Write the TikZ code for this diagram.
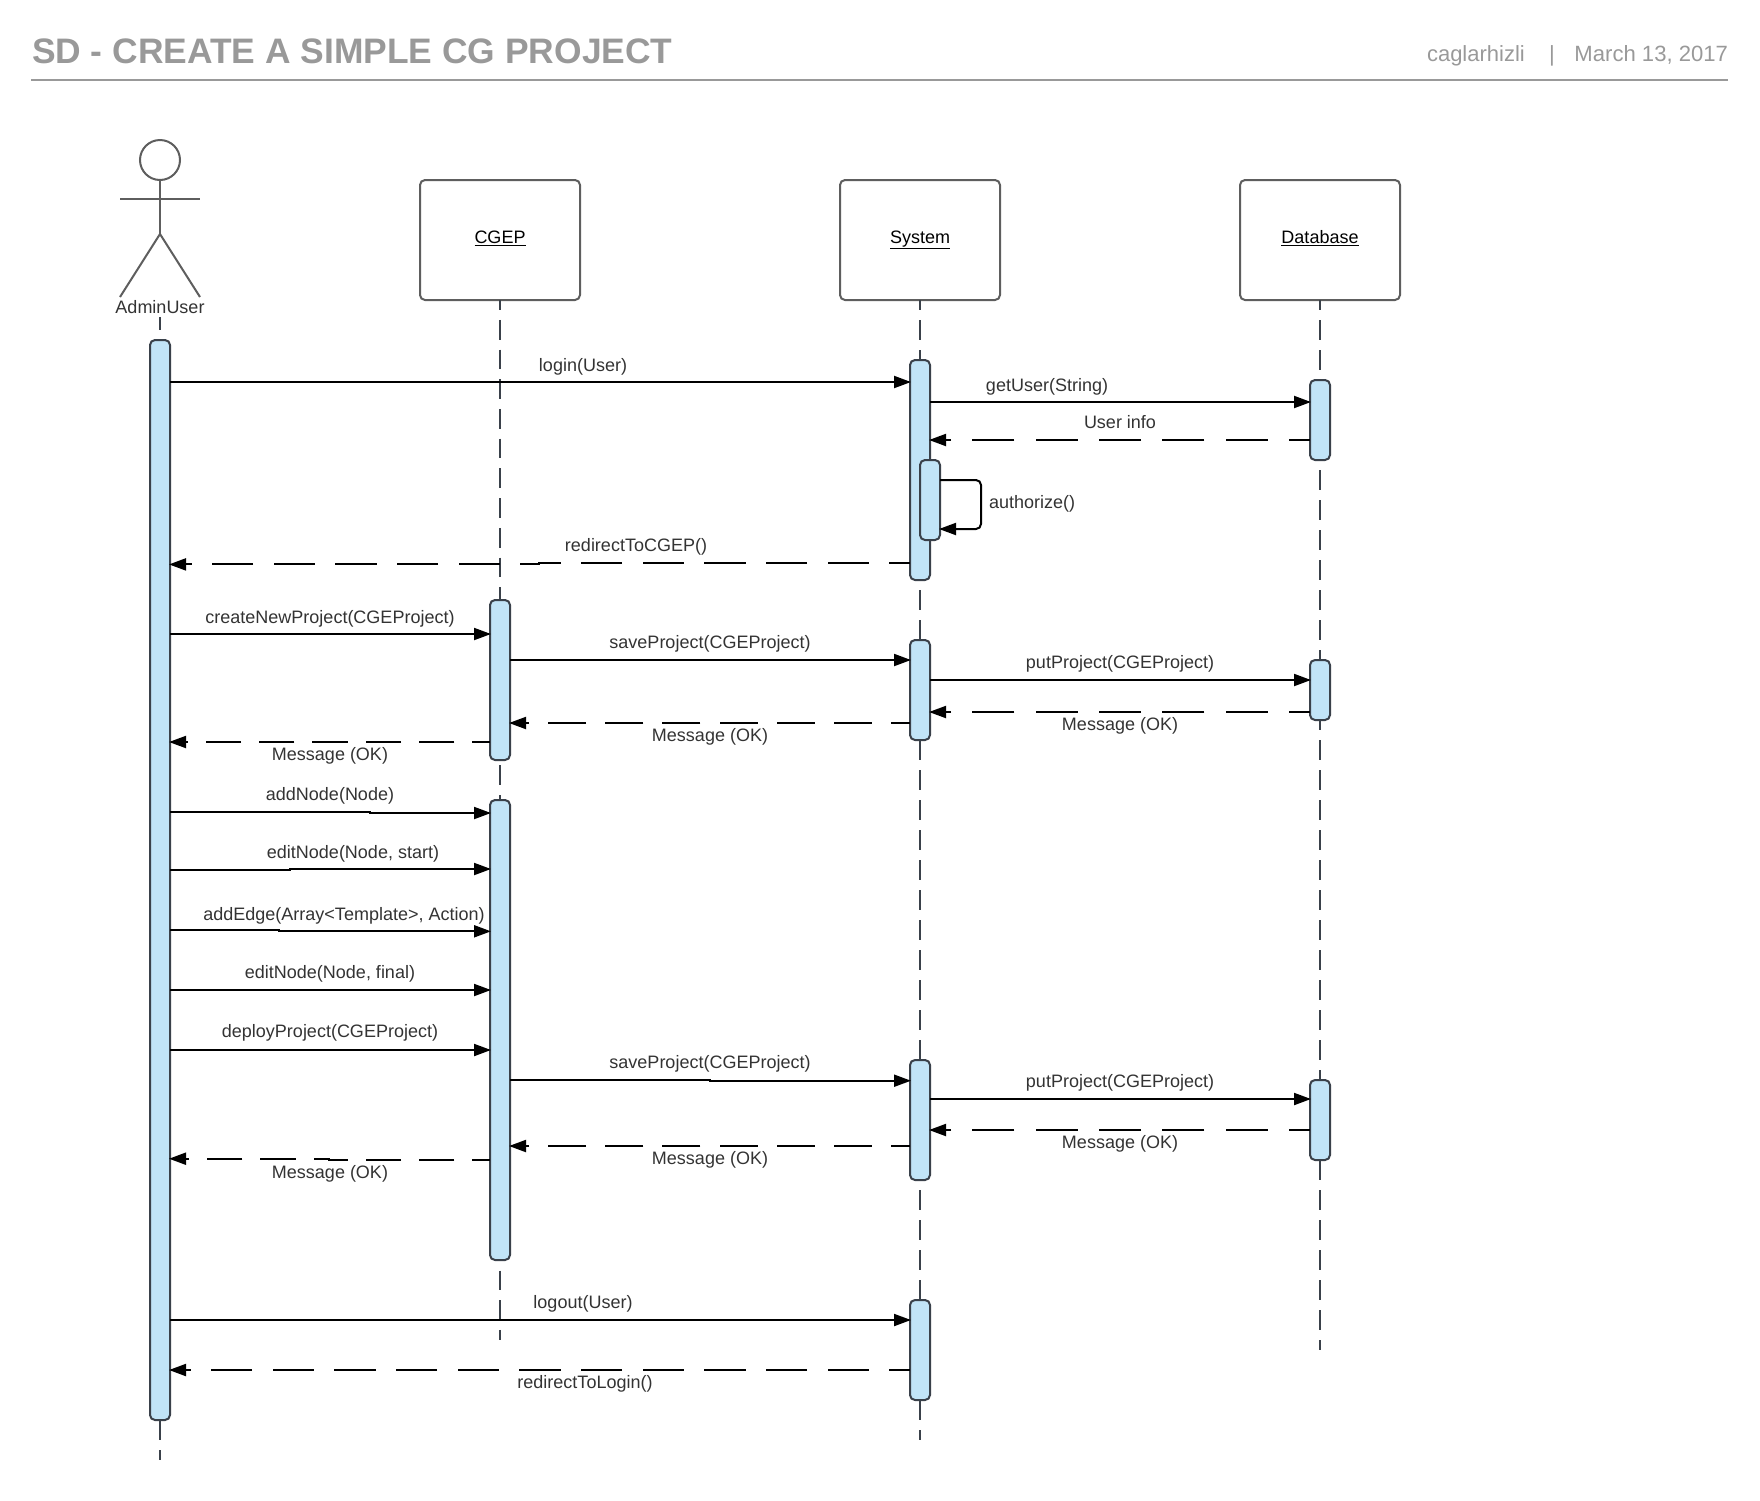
\documentclass[tikz,border=0pt]{standalone}
\usepackage{fontspec}
\setmainfont{Liberation Sans}
\usetikzlibrary{arrows.meta}
\definecolor{lifecol}{HTML}{3A414A}
\definecolor{actfill}{HTML}{C1E4F7}
\definecolor{boxcol}{HTML}{5E5E5E}
\definecolor{headcol}{HTML}{999999}
\definecolor{txtcol}{HTML}{333333}
\tikzset{
  x=1pt,y=-1pt,
  lifeline/.style={draw=lifecol,line width=1.5pt,dash pattern=on 20pt off 10pt,dash phase=10pt},
  acti/.style={draw=lifecol,line width=2pt,fill=actfill,rounded corners=5pt,minimum width=20pt,inner sep=0pt,outer sep=0pt},
  objbox/.style={draw=boxcol,line width=2pt,fill=white,rounded corners=5pt,minimum width=160pt,minimum height=120pt,inner sep=0pt,outer sep=0pt,font=\fontsize{18}{22}\selectfont,text=black,text height=11pt,text depth=4pt},
  actorline/.style={draw=boxcol,line width=2pt},
  mtip/.style={-{Triangle[length=17pt,width=12pt]},shorten >=-1pt},
  call/.style={draw=black,line width=2pt,mtip},
  reply/.style={draw=black,line width=2pt,mtip},
  % dash patterns: each line opens and closes on half a dash
  dashL/.style={dash pattern=on 41.11pt off 20.56pt,dash phase=20.56pt},   % 740 long
  dashM/.style={dash pattern=on 42.22pt off 21.11pt,dash phase=21.11pt},   % 380 long
  dashN/.style={dash pattern=on 38.10pt off 19.05pt,dash phase=19.05pt},   % 400 long
  dashO/.style={dash pattern=on 35.56pt off 17.78pt,dash phase=17.78pt},   % 320 long
  lab/.style={font=\fontsize{18}{22}\selectfont,text=txtcol,inner sep=0pt,outer sep=0pt,text height=17.4pt,text depth=4pt,anchor=center},
  headtxt/.style={text=headcol,inner sep=0pt,outer sep=0pt},
}
\begin{document}
\begin{tikzpicture}
\useasboundingbox (0,0) rectangle (1760,1500);
% header
\node[headtxt,anchor=base west,font=\fontsize{35.4}{40}\selectfont\bfseries] (title) at (32,63) {SD - CREATE A SIMPLE CG PROJECT};
\node[headtxt,anchor=base west,font=\fontsize{22}{26}\selectfont] (author) at (1427,61) {caglarhizli};
\node[headtxt,anchor=base,font=\fontsize{22}{26}\selectfont] (sep) at (1552,61) {|};
\node[headtxt,anchor=base east,font=\fontsize{22.1}{26}\selectfont] (date) at (1728,61) {March 13, 2017};
\draw[headcol,line width=2pt] (31,80) -- (1728,80);
% actor
\node[draw=boxcol,line width=2pt,circle,minimum size=40pt,inner sep=0pt,outer sep=0pt] (head) at (160,160) {};
\coordinate (crotch) at (160,234);
\draw[actorline] (head.south) -- (crotch);
\draw[actorline] (120,199) -- (200,199);
\draw[actorline] (120,297) -- (crotch) -- (200,297);
\node[lab] (admin) at (160,307) {AdminUser};
% objects
\node[objbox] (cgep) at (500,240) {\underline{CGEP}};
\node[objbox] (system) at (920,240) {\underline{System}};
\node[objbox] (database) at (1320,240) {\underline{Database}};
% lifeline ends
\coordinate (adminEnd) at (160,1460);
\coordinate (cgepEnd) at (500,1340);
\coordinate (systemEnd) at (920,1440);
\coordinate (databaseEnd) at (1320,1350);
\draw[lifeline,dash phase=7pt] (admin.south |- 0,317) -- (adminEnd);
\draw[lifeline,dash pattern=on 19.81pt off 9.9pt,dash phase=9.9pt] (cgep.south) -- (cgepEnd);
\draw[lifeline] (system.south) -- (systemEnd);
\draw[lifeline] (database.south) -- (databaseEnd);
% activations
\node[acti,minimum height=1080pt] (aA) at (160,880) {};
\node[acti,minimum height=160pt] (aC1) at (500,680) {};
\node[acti,minimum height=460pt] (aC2) at (500,1030) {};
\node[acti,minimum height=220pt] (aS1) at (920,470) {};
\node[acti,minimum height=80pt] (aS1b) at (930,500) {};
\node[acti,minimum height=100pt] (aS2) at (920,690) {};
\node[acti,minimum height=120pt] (aS3) at (920,1120) {};
\node[acti,minimum height=100pt] (aS4) at (920,1350) {};
\node[acti,minimum height=80pt] (aD1) at (1320,420) {};
\node[acti,minimum height=60pt] (aD2) at (1320,690) {};
\node[acti,minimum height=80pt] (aD3) at (1320,1120) {};
% messages
\draw[call] (aA.east |- 0,382) -- (aS1.west |- 0,382);
\node[lab] (l1) at (583,365) {login(User)};
\draw[call] (aS1.east |- 0,402) -- (aD1.west |- 0,402);
\node[lab] (l2) at (1047,385) {getUser(String)};
\draw[reply,dashM] (aD1.west |- 0,440) -- (aS1.east |- 0,440);
\node[lab] (l3) at (1120,422) {User info};
\draw[line width=2pt,rounded corners=5pt,mtip] (aS1b.east |- 0,480) -- (981,480) -- (981,529) -- (aS1b.east |- 0,529);
\node[lab,anchor=west] (l4) at (989,502) {authorize()};
\draw[reply,dashL] (aS1.west |- 0,563.4) -- (539,563.4) -- (539,564.4) -- (aA.east |- 0,564.4);
\node[lab] (l5) at (636,545) {redirectToCGEP()};
\draw[call] (aA.east |- 0,634) -- (aC1.west |- 0,634);
\node[lab] (l6) at (330,617) {createNewProject(CGEProject)};
\draw[call] (aC1.east |- 0,660) -- (aS2.west |- 0,660);
\node[lab] (l7) at (710,642) {saveProject(CGEProject)};
\draw[call] (aS2.east |- 0,680) -- (aD2.west |- 0,680);
\node[lab] (l8) at (1120,662) {putProject(CGEProject)};
\draw[reply,dashM] (aD2.west |- 0,712) -- (aS2.east |- 0,712);
\node[lab] (l9) at (1120,724) {Message (OK)};
\draw[reply,dashN] (aS2.west |- 0,723) -- (aC1.east |- 0,723);
\node[lab] (l10) at (710,735) {Message (OK)};
\draw[reply,dashO] (aC1.west |- 0,742) -- (aA.east |- 0,742);
\node[lab] (l11) at (330,754) {Message (OK)};
\draw[call] (aA.east |- 0,812) -- (370,812) -- (370,813) -- (aC2.west |- 0,813);
\node[lab] (l12) at (330,794) {addNode(Node)};
\draw[call] (aA.east |- 0,870) -- (290,870) -- (290,869) -- (aC2.west |- 0,869);
\node[lab] (l13) at (353,852) {editNode(Node, start)};
\draw[call] (aA.east |- 0,929.7) -- (279,929.7) -- (279,931.3) -- (aC2.west |- 0,931.3);
\node[lab] (l14) at (344,914) {addEdge(Array<Template>, Action)};
\draw[call] (aA.east |- 0,990) -- (aC2.west |- 0,990);
\node[lab] (l15) at (330,972) {editNode(Node, final)};
\draw[call] (aA.east |- 0,1050) -- (aC2.west |- 0,1050);
\node[lab] (l16) at (330,1031) {deployProject(CGEProject)};
\draw[call] (aC2.east |- 0,1079.7) -- (710,1079.7) -- (710,1080.7) -- (aS3.west |- 0,1080.7);
\node[lab] (l17) at (710,1062) {saveProject(CGEProject)};
\draw[call] (aS3.east |- 0,1099) -- (aD3.west |- 0,1099);
\node[lab] (l18) at (1120,1081) {putProject(CGEProject)};
\draw[reply,dashM] (aD3.west |- 0,1130) -- (aS3.east |- 0,1130);
\node[lab] (l19) at (1120,1142) {Message (OK)};
\draw[reply,dashN] (aS3.west |- 0,1146) -- (aC2.east |- 0,1146);
\node[lab] (l20) at (710,1158) {Message (OK)};
\draw[reply,dashO] (aC2.west |- 0,1160) -- (329,1160) -- (329,1158.7) -- (aA.east |- 0,1158.7);
\node[lab] (l21) at (330,1172) {Message (OK)};
\draw[call] (aA.east |- 0,1320) -- (aS4.west |- 0,1320);
\node[lab] (l22) at (583,1302) {logout(User)};
\draw[reply,dashL] (aS4.west |- 0,1370) -- (aA.east |- 0,1370);
\node[lab] (l23) at (585,1382) {redirectToLogin()};
\end{tikzpicture}
\end{document}
